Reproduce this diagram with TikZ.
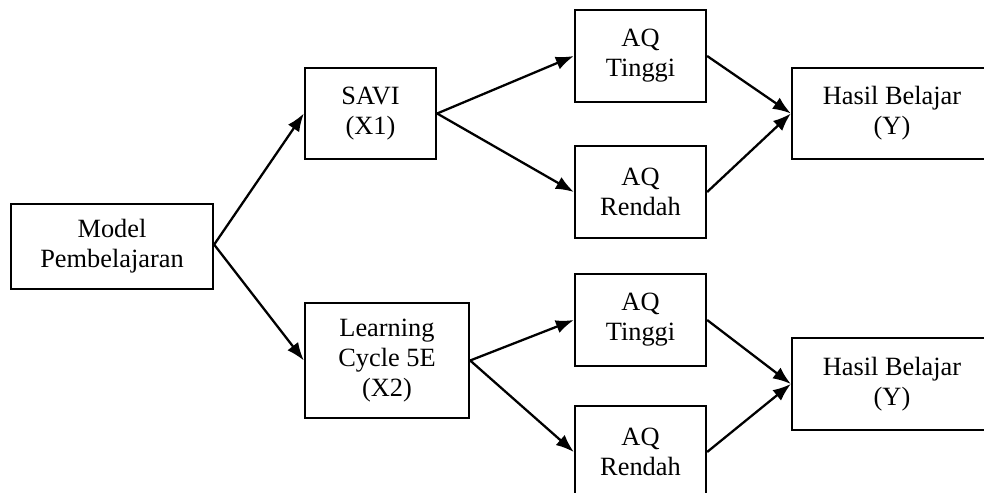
\documentclass[tikz,border=0pt]{standalone}
\usepackage{fontspec}
\setmainfont{Liberation Serif}
\usetikzlibrary{arrows.meta}

\begin{document}
\begin{tikzpicture}[scale=0.2]
\tikzstyle{every node}+=[inner sep=0pt, align=center, font=\fontsize{15}{17}\selectfont]
\tikzstyle{box}=[draw, line width=1.3pt, minimum height=1.84cm]
\tikzstyle{link}=[line width=1.3pt, -{Latex[length=0.36cm,width=0.27cm]}]
\useasboundingbox (0,0) rectangle (98.4,-49.3);
\clip (0,0) rectangle (98.4,-49.3);
% left part
\node [box, minimum width=4.04cm, minimum height=1.70cm] (model) at (11.2,-24.65) {Model\\Pembelajaran};
\node [box, minimum width=2.62cm, minimum height=1.82cm] (savi) at (37.05,-11.35) {SAVI\\(X1)};
\node [box, minimum width=3.28cm, minimum height=2.30cm] (cycle) at (38.7,-36.05) {Learning\\Cycle 5E\\(X2)};
% upper branch
\node [box, minimum width=2.62cm] (tinggiA) at (64.05,-5.6) {AQ\\Tinggi};
\node [box, minimum width=2.62cm] (rendahA) at (64.05,-19.2) {AQ\\Rendah};
\node [box, minimum width=4cm, minimum height=1.82cm] (hasilA) at (89.2,-11.35) {Hasil Belajar\\(Y)};
% lower branch
\node [box, minimum width=2.62cm] (tinggiB) at (64.05,-32.0) {AQ\\Tinggi};
\node [box, minimum width=2.62cm] (rendahB) at (64.05,-45.2) {AQ\\Rendah};
\node [box, minimum width=4cm] (hasilB) at (89.2,-38.4) {Hasil Belajar\\(Y)};
% arrows
\draw [link] ([yshift=0.19cm]model.east) -- (savi.west);
\draw [link] ([yshift=0.19cm]model.east) -- (cycle.west);
\draw [link] (savi.east) -- (tinggiA.west);
\draw [link] (savi.east) -- (rendahA.west);
\draw [link] (tinggiA.east) -- (hasilA.west);
\draw [link] (rendahA.east) -- (hasilA.west);
\draw [link] (cycle.east) -- (tinggiB.west);
\draw [link] (cycle.east) -- (rendahB.west);
\draw [link] (tinggiB.east) -- (hasilB.west);
\draw [link] (rendahB.east) -- (hasilB.west);
\end{tikzpicture}
\end{document}
